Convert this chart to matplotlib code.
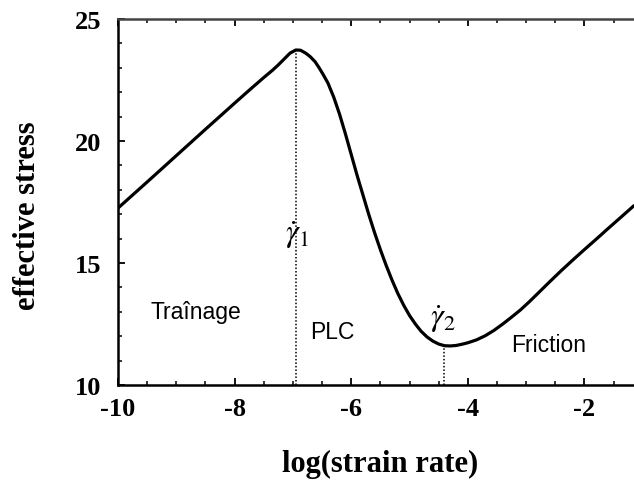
import matplotlib
matplotlib.use("Agg")
import matplotlib.pyplot as plt
from matplotlib.ticker import MultipleLocator

plt.rcParams["mathtext.fontset"] = "stix"

# Data
log_rate = [-10.0, -9.5, -9.0, -8.5, -8.0, -7.75, -7.5, -7.35, -7.25, -7.15,
            -7.05, -6.95, -6.87, -6.78, -6.7, -6.62, -6.55, -6.48, -6.4, -6.3,
            -6.2, -6.1, -6.0, -5.9, -5.8, -5.7, -5.6, -5.5, -5.4, -5.3,
            -5.2, -5.1, -5.0, -4.9, -4.8, -4.7, -4.6, -4.5, -4.4, -4.3,
            -4.2, -4.1, -4.0, -3.85, -3.7, -3.55, -3.4, -3.25, -3.1, -2.95,
            -2.8, -2.6, -2.4, -2.2, -2.0, -1.8, -1.6, -1.4, -1.15]
stress = [17.25, 18.32, 19.4, 20.48, 21.55, 22.08, 22.6, 22.9, 23.12, 23.36,
          23.6, 23.73, 23.72, 23.6, 23.45, 23.25, 23.0, 22.72, 22.38, 21.8,
          21.1, 20.3, 19.45, 18.6, 17.8, 17.0, 16.25, 15.55, 14.9, 14.3,
          13.75, 13.27, 12.85, 12.5, 12.2, 11.97, 11.8, 11.68, 11.61, 11.6,
          11.62, 11.67, 11.73, 11.85, 12.02, 12.24, 12.5, 12.78, 13.07, 13.4,
          13.75, 14.22, 14.68, 15.12, 15.55, 15.97, 16.4, 16.82, 17.35]

gamma1_x, gamma1_y = -6.95, 23.73
gamma2_x, gamma2_y = -4.4, 11.61

xticks = [-10, -8, -6, -4, -2]
yticks = [10, 15, 20, 25]

regions = ["Traînage", "PLC", "Friction"]
region_x = [-8.66, -6.32, -2.61]
region_y = [13.03, 12.19, 11.68]

fig = plt.figure(figsize=(6.34, 4.81), dpi=100)
axw = 634 - 118 + 0.05 * 634
ax = fig.add_axes([118/634, 1-386/481, axw/634, 366/481])

serif = "Liberation Serif"
ax.plot(log_rate, stress, color="black", lw=2.3, solid_capstyle="round",
        solid_joinstyle="round")
ax.plot([gamma1_x, gamma1_x], [10, gamma1_y], color="black", lw=1.1, ls=(0, (1, 1.3)))
ax.plot([gamma2_x, gamma2_x], [10, gamma2_y], color="black", lw=1.1, ls=(0, (1, 1.3)))

ax.set_xlim(-10, -10 + axw / 58.3)
ax.set_ylim(10, 25)
ax.set_xticks(xticks)
ax.set_yticks(yticks)
ax.set_xticklabels([str(t) for t in xticks])
ax.set_yticklabels([str(t) for t in yticks])
ax.xaxis.set_minor_locator(MultipleLocator(0.5))
ax.yaxis.set_minor_locator(MultipleLocator(1))
ax.tick_params(which="major", direction="in", length=5, width=1.3, top=True, right=False,
               labelsize=19, pad=9)
ax.tick_params(which="minor", direction="in", length=3, width=1.1, top=True, right=False)
ax.tick_params(axis="y", which="major", pad=12)
for lab in ax.get_xticklabels() + ax.get_yticklabels():
    lab.set_fontfamily(serif)
    lab.set_fontweight("bold")

for s in ["left", "bottom", "top"]:
    ax.spines[s].set_linewidth(1.8)
ax.spines["top"].set_color("#444444")
ax.spines["right"].set_visible(False)

ax.set_xlabel("log(strain rate)", fontfamily=serif, fontweight="bold", fontsize=22)
ax.set_ylabel("effective stress", fontfamily=serif, fontweight="bold", fontsize=22)
ax.xaxis.label.set_va("center")
ax.yaxis.label.set_va("center")
ax.xaxis.set_label_coords((380-118)/axw, (386-464)/366)
ax.yaxis.set_label_coords((28-118)/axw, (386-215.5)/366)

ax.text(gamma1_x + 0.02, 16.2, r"$\dot{\gamma}_1$", fontsize=23, ha="center", va="center")
ax.text(-4.43, 12.75, r"$\dot{\gamma}_2$", fontsize=23, ha="center", va="center")

for name, x, y in zip(regions, region_x, region_y):
    ax.text(x, y, name, fontfamily="Liberation Sans", fontsize=16.5, ha="center", va="center")

fig.savefig("out.png", dpi=100)
